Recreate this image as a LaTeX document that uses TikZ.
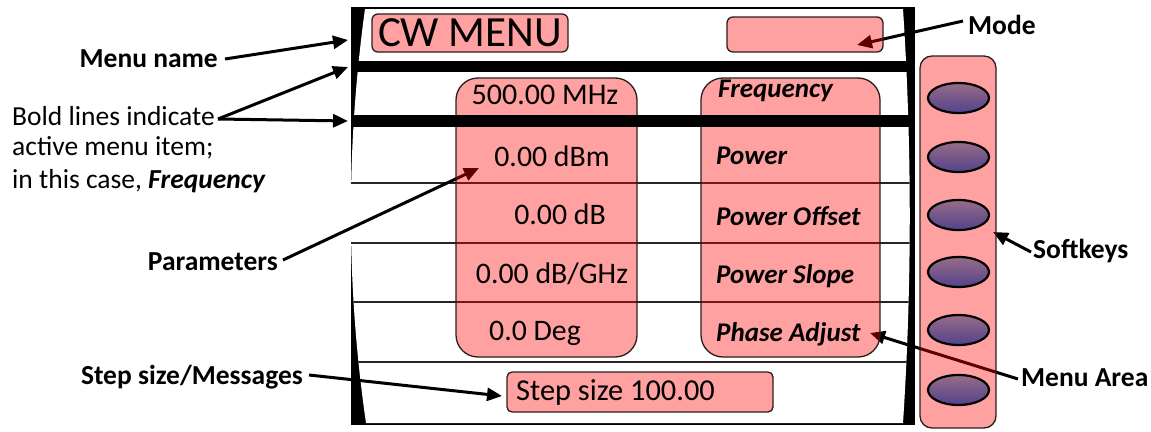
\documentclass[tikz,border=0pt]{standalone}
\usepackage{fontspec}
\setmainfont{Carlito}
\usetikzlibrary{arrows.meta,shapes.geometric}
\definecolor{keytop}{RGB}{152,108,134}
\definecolor{keybot}{RGB}{82,66,140}
\definecolor{boxline}{RGB}{40,30,30}
\begin{document}
\begin{tikzpicture}[x=1pt,y=-1pt,
  lab/.style={font=\fontsize{27.5}{32}\selectfont\bfseries, inner sep=0pt},
  txt/.style={font=\fontsize{27.5}{32}\selectfont, inner sep=0pt},
  par/.style={font=\fontsize{29.8}{34}\selectfont, inner sep=0pt},
  itm/.style={font=\fontsize{27}{32}\selectfont\bfseries\itshape, inner sep=0pt, anchor=west},
  arr/.style={line width=3pt, -{Triangle[length=15pt,width=13pt]}},
  pinkbox/.style={fill=red, fill opacity=0.37, text opacity=1, draw=boxline, draw opacity=1, line width=1.3pt, inner sep=0pt},
  bar/.style={fill=black},
  thin/.style={line width=1.2pt, draw=black!85},
  softkey/.style={ellipse, draw=black, line width=2.2pt, minimum width=61pt, minimum height=30pt, top color=keytop, bottom color=keybot}
]
\useasboundingbox (0,0) rectangle (1151,431);
% screen frame
\fill[black] (351,7) rectangle (915,425);
\fill[white] (365,9) .. controls (346,147) and (346,285) .. (366,423)
   -- (903,423) .. controls (912,285) and (912,147) .. (903,9) -- cycle;
\begin{scope}
  \clip (365,9) .. controls (346,147) and (346,285) .. (366,423)
   -- (903,423) .. controls (912,285) and (912,147) .. (903,9) -- cycle;
  \foreach \yy in {183,243,302,362} \draw[thin] (340,\yy) -- (920,\yy);
\end{scope}

% labels
\node[lab, anchor=east] (menuname) at (218,59) {Menu name};
\node[txt, anchor=west] (bl1) at (12,116) {Bold lines indicate};
\node[txt, anchor=west] (bl2) at (12,148) {active menu item;};
\node[txt, anchor=west] (bl3) at (12,181) {in this case, \textbf{\textit{Frequency}}};
\node[lab, anchor=east] (params) at (278,262) {Parameters};
\node[lab, anchor=east] (steplab) at (303,377) {Step size/Messages};
\node[lab, anchor=west] (mode) at (968,25) {Mode};
\node[lab, anchor=west] (softkeys) at (1033,251) {Softkeys};
\node[lab, anchor=west] (menuarea) at (1021,378) {Menu Area};

% arrow targets
\coordinate (tMenu) at (348,40);
\coordinate (tBar1) at (348,67);
\coordinate (tBar2) at (348,121);
\coordinate (tPar) at (479,168);
\coordinate (tStep) at (502,396);
\coordinate (tMode) at (857,45);
\coordinate (tSoft) at (993,232);
\coordinate (tArea) at (870,333);

% arrows (drawn beneath the translucent boxes)
\draw[arr] ([xshift=7pt]menuname.east) -- (tMenu);
\draw[arr] ([xshift=3pt,yshift=-3pt]bl1.east) -- (tBar1);
\draw[arr] ([xshift=3pt,yshift=-3pt]bl1.east) -- (tBar2);
\draw[arr] ([xshift=5pt,yshift=2pt]params.east) -- (tPar);
\draw[arr] ([xshift=6pt,yshift=2pt]steplab.east) -- (tStep);
\draw[arr] ([xshift=-5pt,yshift=4pt]mode.west) -- (tMode);
\draw[arr] ([xshift=-2pt,yshift=-1pt]softkeys.west) -- (tSoft);
\draw[arr] ([xshift=-3pt,yshift=-1pt]menuarea.west) -- (tArea);

% translucent boxes
\node[pinkbox, rounded corners=6pt, minimum width=196pt, minimum height=38pt] (cwbox) at (470,33) {};
\node[pinkbox, rounded corners=6pt, minimum width=156pt, minimum height=35pt] (modebox) at (805,34.5) {};
\node[pinkbox, rounded corners=22pt, minimum width=181pt, minimum height=279pt] (pbox) at (546.5,217.5) {};
\node[pinkbox, rounded corners=22pt, minimum width=179pt, minimum height=279pt] (mbox) at (790.5,217.5) {};
\node[pinkbox, rounded corners=5pt, minimum width=266pt, minimum height=40pt] (sbox) at (640,392) {};
\node[pinkbox, rounded corners=12pt, minimum width=76pt, minimum height=372pt] (panel) at (958,242) {};

% softkeys
\foreach \i/\yy in {1/98,2/157,3/215,4/272,5/330,6/390}
  \node[softkey] (key\i) at (958.5,\yy) {};

% bold bars
\fill[bar] (351,61) rectangle (915,72);
\fill[bar] (351,115) rectangle (915,127);

% texts
\node[font=\fontsize{43}{48}\selectfont, inner sep=0pt] (cwtext) at (cwbox.center) {CW MENU};
\node[par, font=\fontsize{30}{34}\selectfont] (p0) at (545,95) {500.00 MHz};
\node[par] (p1) at (552,156) {0.00 dBm};
\node[par] (p2) at (560,214) {0.00 dB};
\node[par] (p3) at (552,274) {0.00 dB/GHz};
\node[par] (p4) at (535,333) {0.0 Deg};
\node[itm] (m0) at (718,91) {Frequency};
\node[itm] (m1) at (716,156) {Power};
\node[itm] (m2) at (716,216) {Power Offset};
\node[itm] (m3) at (716,276) {Power Slope};
\node[itm] (m4) at (716,334) {Phase Adjust};
\node[par, font=\fontsize{30.4}{34}\selectfont, anchor=west] (stext) at (516,392) {Step size 100.00};
\end{tikzpicture}
\end{document}
